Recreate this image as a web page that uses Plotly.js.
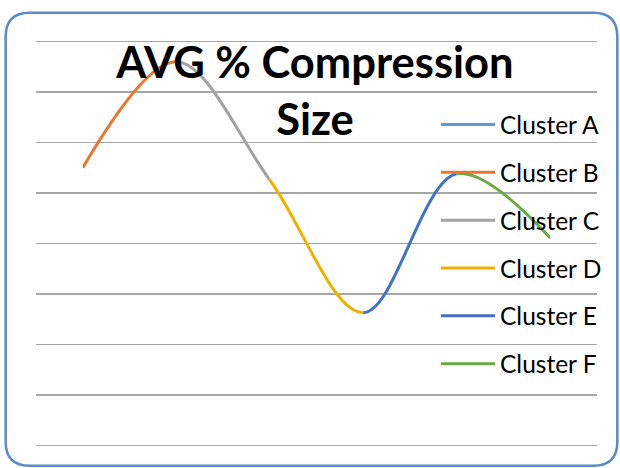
<!DOCTYPE html>
<html><head><meta charset="utf-8">
<script src="https://cdn.plot.ly/plotly-3.0.1.min.js"></script>
<style>html,body{margin:0;padding:0;background:#fff}#chart{width:620px;height:468px}</style>
</head><body><div id="chart"></div>
<script>
// ---- data ----
const positions = [0, 1, 2, 3, 4, 5];
const clusters = ['Cluster A', 'Cluster B', 'Cluster C', 'Cluster D', 'Cluster E', 'Cluster F'];
const avgCompression = [55.0, 76.0, 52.6, 26.3, 53.8, 41.1];
// each cluster covers the curve from this position to the next one (A has no visible segment)
const segmentStart = [null, 0, 1, 2, 3, 4];
const yTicks = [0, 10, 20, 30, 40, 50, 60, 70, 80];
const colors = ['#5B9BD5', '#E5772F', '#A2A2A2', '#EDB200', '#4471C1', '#6CAA43'];

// ---- layout geometry ----
const W = 620, H = 468;
const m = {l: 36.3, r: 23.3, t: 39.2, b: 19.8, autoexpand: false};
const pw = W - m.l - m.r, ph = H - m.t - m.b;
const px = x => (x - m.l) / pw;
const py = y => (H - m.b - y) / ph;

const n = positions.length;
const traces = [];
const layout = {
  width: W, height: H,
  margin: m,
  paper_bgcolor: '#fff', plot_bgcolor: 'rgba(0,0,0,0)',
  showlegend: true,
  font: {family: 'Lato, Calibri, sans-serif', color: '#000'},
  title: {
    text: 'AVG % Compression<br>Size',
    font: {family: 'Lato, sans-serif', size: 43.5, weight: 'bold', color: '#000'},
    xref: 'container', x: 0.508, xanchor: 'center',
    yref: 'container', y: 1 - 78 / H, yanchor: 'top'
  },
  xaxis: {domain: [0, 1], range: [-0.5, n - 0.5], visible: false, fixedrange: true},
  yaxis: {
    range: [-0.5, 80.5], tickvals: yTicks, showgrid: true, gridcolor: '#a6a6a6', gridwidth: 1.3,
    showticklabels: false, zeroline: false, showline: false, ticks: '', fixedrange: true
  },
  legend: {
    xref: 'container', yref: 'container', x: 436 / W, y: 1 - 102 / H, xanchor: 'left', yanchor: 'top',
    font: {family: 'Lato, sans-serif', size: 24.5, color: '#000'},
    traceorder: 'grouped', tracegroupgap: 13, itemwidth: 54, bgcolor: 'rgba(0,0,0,0)',
    maxheight: 400
  },
  shapes: []
};

clusters.forEach((name, k) => {
  const s = segmentStart[k];
  if (s === null) {
    traces.push({
      type: 'scatter', mode: 'lines', name: name, legendgroup: name,
      x: positions, y: positions.map(i => i === 0 ? avgCompression[i] : null),
      line: {color: colors[k], width: 3}, hoverinfo: 'skip'
    });
    return;
  }
  const ax = k + 1;
  layout['xaxis' + ax] = {
    domain: [(s + 0.5) / n, (s + 1.5) / n], range: [s, s + 1],
    visible: false, anchor: 'y' + ax, fixedrange: true
  };
  layout['yaxis' + ax] = {
    range: layout.yaxis.range, visible: false, showgrid: false, anchor: 'x' + ax, fixedrange: true
  };
  traces.push({
    type: 'scatter', mode: 'lines', name: name, legendgroup: name,
    x: positions, y: avgCompression, xaxis: 'x' + ax, yaxis: 'y' + ax,
    line: {color: colors[k], width: 3, shape: 'spline', smoothing: 1, simplify: false},
    hoverinfo: 'skip'
  });
});

// rounded chart border
const x0 = 6, x1 = 617, y0 = 13, y1 = 466, r = 24;
const P = (x, y) => px(x) + ',' + py(y);
layout.shapes.push({
  type: 'path', xref: 'paper', yref: 'paper', layer: 'above',
  path: 'M' + P(x0 + r, y0) + ' L' + P(x1 - r, y0) + ' Q' + P(x1, y0) + ' ' + P(x1, y0 + r) +
        ' L' + P(x1, y1 - r) + ' Q' + P(x1, y1) + ' ' + P(x1 - r, y1) +
        ' L' + P(x0 + r, y1) + ' Q' + P(x0, y1) + ' ' + P(x0, y1 - r) +
        ' L' + P(x0, y0 + r) + ' Q' + P(x0, y0) + ' ' + P(x0 + r, y0) + ' Z',
  line: {color: '#5B8AC6', width: 2.5}
});

Plotly.newPlot('chart', traces, layout, {displayModeBar: false, staticPlot: true});
</script>
</body></html>
